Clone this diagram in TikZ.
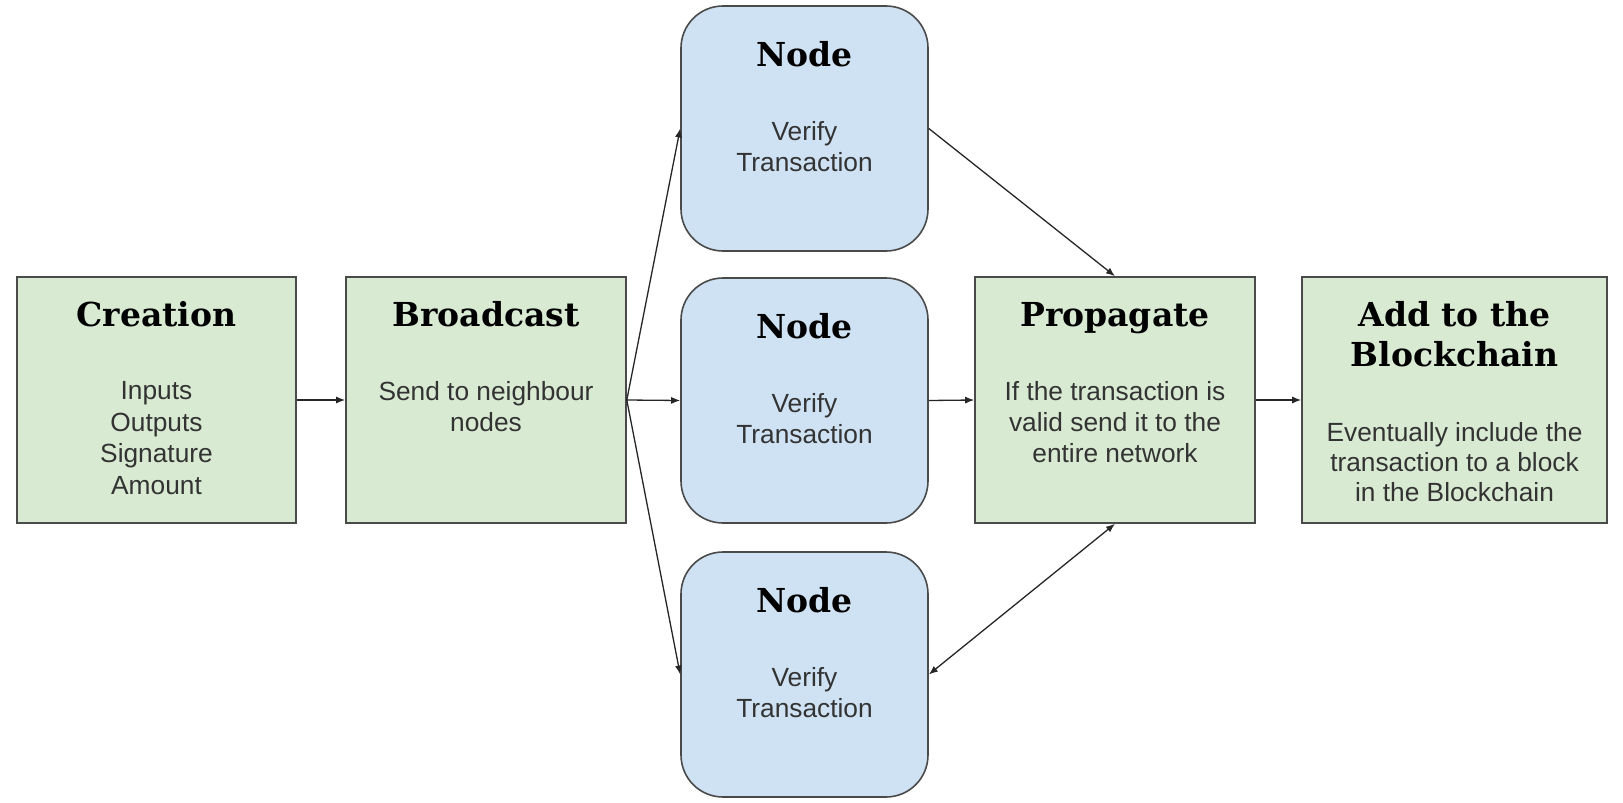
\documentclass[tikz,border=0pt]{standalone}
\usepackage{fontspec}
\setmainfont{Liberation Sans}
\newfontfamily\titlefont{DejaVu Serif}
\usetikzlibrary{arrows.meta,calc}
\definecolor{stagegreen}{HTML}{D9EAD3}
\definecolor{peerblue}{HTML}{CFE2F3}
\definecolor{edgegray}{HTML}{4A4A4A}
\begin{document}
\begin{tikzpicture}[x=1pt,y=-1pt,
  box/.style={draw=edgegray, line width=1.6pt, inner sep=0pt},
  stagebox/.style={box, fill=stagegreen, minimum height=246pt},
  peerbox/.style={box, fill=peerblue, rounded corners=42pt,
    minimum width=247pt, minimum height=245pt},
  heading/.style={font=\titlefont\bfseries\fontsize{33}{40}\selectfont,
    text=black, anchor=base, align=center, inner sep=0pt},
  body/.style={font=\fontsize{26.3}{31}\selectfont, text=black!80,
    anchor=base, align=center, inner sep=0pt},
  flow/.style={-{Latex[length=9pt,width=7pt]}, line width=1.3pt, black!85},
  bothflow/.style={{Latex[length=9pt,width=7pt]}-{Latex[length=9pt,width=7pt]},
    line width=1.3pt, black!85}]

\useasboundingbox[fill=white] (0,0) rectangle (1623,803);

% stage boxes
\node[stagebox, minimum width=279pt] (creation)  at (156.5,400) {};
\node[stagebox, minimum width=280pt] (broadcast) at (486,400) {};
\node[stagebox, minimum width=280pt] (propagate) at (1115,400) {};
\node[stagebox, minimum width=305pt] (addchain)  at (1454.5,400) {};

% peer nodes
\node[peerbox] (peerA) at (804.5,128.5) {};
\node[peerbox] (peerB) at (804.5,400.5) {};
\node[peerbox] (peerC) at (804.5,674.5) {};

% stage texts (base anchor sits on the last line)
\node[heading] (creationT) at ($(creation.north)+(0,50)$) {Creation};
\node[body, font=\fontsize{26.3}{31.5}\selectfont] (creationB)
  at ($(creation.north)+(0,218)$)
  {Inputs\\Outputs\\Signature\\Amount};

\node[heading] (broadcastT) at ($(broadcast.north)+(0,50)$) {Broadcast};
\node[body] (broadcastB) at ($(broadcast.north)+(0,155)$)
  {Send to neighbour\\nodes};

\node[heading] (propagateT) at ($(propagate.north)+(0,50)$) {Propagate};
\node[body] (propagateB) at ($(propagate.north)+(0,186)$)
  {If the transaction is\\valid send it to the\\entire network};

\node[heading] (addchainT) at ($(addchain.north)+(0,90)$) {Add to the\\Blockchain};
\node[body, font=\fontsize{26.3}{30}\selectfont] (addchainB)
  at ($(addchain.north)+(0,225)$)
  {Eventually include the\\transaction to a block\\in the Blockchain};

% peer texts
\foreach \p in {peerA,peerB,peerC}{
  \node[heading] (\p T) at ($(\p.north)+(0,61)$) {Node};
  \node[body] (\p B) at ($(\p.north)+(0,166)$) {Verify\\Transaction};
}

% connectors
\draw[flow] (creation.east) -- (broadcast.west);
\draw[flow] (broadcast.east) -- (peerA.west);
\draw[flow] (broadcast.east) -- (peerB.west);
\draw[flow] (broadcast.east) -- (peerC.west);
\draw[flow] (peerA.east) -- (propagate.north);
\draw[flow] (peerB.east) -- (propagate.west);
\draw[bothflow] (propagate.south) -- (peerC.east);
\draw[flow] (propagate.east) -- (addchain.west);
\end{tikzpicture}
\end{document}
